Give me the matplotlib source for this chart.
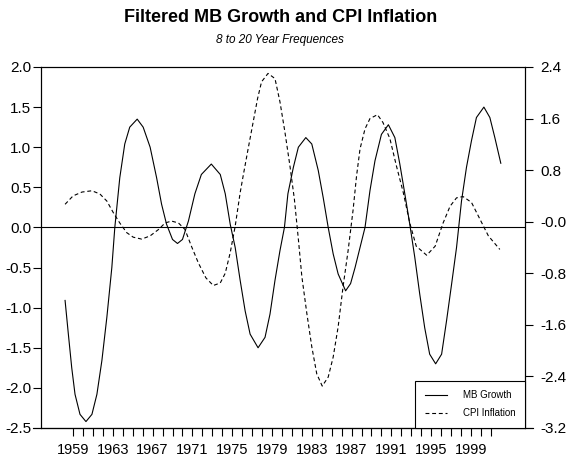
import matplotlib
matplotlib.use("Agg")
import matplotlib.pyplot as plt

plt.rcParams['font.family'] = ['Liberation Sans', 'DejaVu Sans']

# filtered series (8 to 20 year band), read at irregular dates
mb_years = [1958.2, 1958.53, 1958.87, 1959.2, 1959.7, 1960.3, 1960.9, 1961.4, 1961.9, 1962.4,
            1962.9, 1963.2, 1963.7, 1964.2, 1964.7, 1965.45, 1966.05, 1966.75, 1967.4, 1967.9,
            1968.4, 1969.0, 1969.5, 1970.0, 1970.6, 1971.25, 1971.9, 1972.9, 1973.8, 1974.3,
            1974.8, 1975.3, 1975.8, 1976.3, 1976.8, 1977.6, 1978.3, 1978.8, 1979.3, 1979.8,
            1980.25, 1980.6, 1981.15, 1981.65, 1982.4, 1983.0, 1983.65, 1984.15, 1984.65, 1985.15,
            1985.65, 1986.4, 1986.9, 1987.35, 1987.85, 1988.35, 1988.85, 1989.35, 1990.0, 1990.7,
            1991.35, 1991.85, 1992.35, 1992.85, 1993.35, 1993.85, 1994.35, 1994.85, 1995.45, 1996.05,
            1996.55, 1997.05, 1997.55, 1998.05, 1998.55, 1999.05, 1999.55, 2000.3, 2000.9, 2001.4,
            2002.0]
mb_growth = [-0.91, -1.33, -1.75, -2.08, -2.33, -2.42, -2.33, -2.08, -1.66, -1.12,
             -0.50, 0.0, 0.62, 1.04, 1.25, 1.35, 1.25, 1.00, 0.62, 0.29,
             0.04, -0.15, -0.20, -0.15, 0.08, 0.42, 0.66, 0.79, 0.66, 0.42,
             0.04, -0.25, -0.66, -1.04, -1.33, -1.50, -1.37, -1.08, -0.66, -0.29,
             0.0, 0.42, 0.75, 1.00, 1.12, 1.04, 0.71, 0.37, 0.0, -0.33,
             -0.58, -0.79, -0.70, -0.50, -0.25, 0.0, 0.46, 0.83, 1.16, 1.28,
             1.12, 0.79, 0.42, 0.04, -0.37, -0.83, -1.25, -1.58, -1.70, -1.58,
             -1.16, -0.71, -0.25, 0.33, 0.75, 1.08, 1.37, 1.50, 1.37, 1.12,
             0.80]

cpi_years = [1958.2, 1959.0, 1959.9, 1960.9, 1961.7, 1962.4, 1963.05, 1963.7, 1964.4, 1965.05,
             1965.9, 1966.75, 1967.6, 1968.25, 1968.9, 1969.6, 1970.25, 1970.9, 1971.6, 1972.35,
             1973.1, 1973.8, 1974.3, 1974.8, 1975.3, 1975.8, 1976.1, 1976.6, 1977.1, 1977.55,
             1977.95, 1978.6, 1979.3, 1979.8, 1980.3, 1980.8, 1981.25, 1981.65, 1982.0, 1982.5,
             1983.0, 1983.5, 1984.05, 1984.65, 1985.15, 1985.65, 1986.15, 1986.65, 1987.15, 1987.5,
             1987.85, 1988.35, 1988.85, 1989.6, 1990.15, 1990.85, 1991.5, 1992.2, 1992.85, 1993.5,
             1994.55, 1995.4, 1996.2, 1996.9, 1997.55, 1998.2, 1999.05, 1999.9, 2000.75, 2001.9]
cpi_inflation = [0.27, 0.40, 0.46, 0.48, 0.43, 0.32, 0.14, -0.02, -0.17, -0.24,
                 -0.27, -0.22, -0.12, -0.02, 0.01, -0.02, -0.12, -0.38, -0.64, -0.87,
                 -0.99, -0.95, -0.80, -0.48, -0.07, 0.45, 0.71, 1.13, 1.54, 1.91,
                 2.17, 2.30, 2.22, 1.86, 1.39, 0.87, 0.35, -0.27, -0.85, -1.42,
                 -1.94, -2.36, -2.55, -2.41, -2.10, -1.63, -1.00, -0.45, 0.18, 0.71,
                 1.13, 1.44, 1.60, 1.66, 1.54, 1.29, 0.87, 0.45, -0.02, -0.38,
                 -0.52, -0.38, -0.02, 0.24, 0.37, 0.39, 0.30, 0.04, -0.22, -0.43]

left_ticks = [2.0, 1.5, 1.0, 0.5, 0.0, -0.5, -1.0, -1.5, -2.0, -2.5]
right_ticks = [2.4, 1.6, 0.8, 0.0, -0.8, -1.6, -2.4, -3.2]
right_labels = ['2.4', '1.6', '0.8', '-0.0', '-0.8', '-1.6', '-2.4', '-3.2']
year_ticks = list(range(1959, 2002))
year_labels = [str(y) if (y - 1959) % 4 == 0 else '' for y in year_ticks]

fig = plt.figure(figsize=(5.71, 4.61), dpi=100)
ax = fig.add_axes([0.0718, 0.0716, 0.8476, 0.7831])
ax2 = ax.twinx()

l1, = ax.plot(mb_years, mb_growth, color='black', lw=0.8)
l2, = ax2.plot(cpi_years, cpi_inflation, color='black', lw=0.8, linestyle=(0, (3.5, 2.5)))
ax.axhline(0, color='black', lw=0.8)

ax.set_xlim(1955.78, 2004.43)
ax.set_ylim(-2.5, 2.0)
ax2.set_ylim(-3.2, 2.4)

ax.set_yticks(left_ticks)
ax.set_yticklabels(['%.1f' % v for v in left_ticks])
ax2.set_yticks(right_ticks)
ax2.set_yticklabels(right_labels)
ax.set_xticks(year_ticks)
ax.set_xticklabels(year_labels)

ax.tick_params(axis='y', direction='out', length=6, width=0.8, labelsize=11, pad=1)
ax2.tick_params(axis='y', direction='out', length=6, width=0.8, labelsize=11, pad=5)
ax.tick_params(axis='x', direction='out', length=6, width=0.8, labelsize=10.5, pad=5)
for a in (ax, ax2):
    for s in a.spines.values():
        s.set_linewidth(0.8)

# bottom axis line runs a little past both sides of the box
ax.plot([-0.0165, 1.0165], [0, 0], transform=ax.transAxes, color='black',
        lw=0.8, clip_on=False)

leg = ax2.legend([l1, l2], ['MB Growth', 'CPI Inflation'], loc='lower right',
                 borderaxespad=0, fancybox=False, framealpha=1, edgecolor='black',
                 fontsize=7, handlelength=2.3, borderpad=1.0, labelspacing=0.8,
                 handletextpad=1.6)
leg.get_frame().set_linewidth(0.8)

fig.text(0.491, 0.963, 'Filtered MB Growth and CPI Inflation', ha='center', va='center',
         fontsize=13, fontweight='bold')
fig.text(0.491, 0.913, '8 to 20 Year Frequences', ha='center', va='center',
         fontsize=8.5, style='italic')

fig.savefig('out.png', dpi=100)
